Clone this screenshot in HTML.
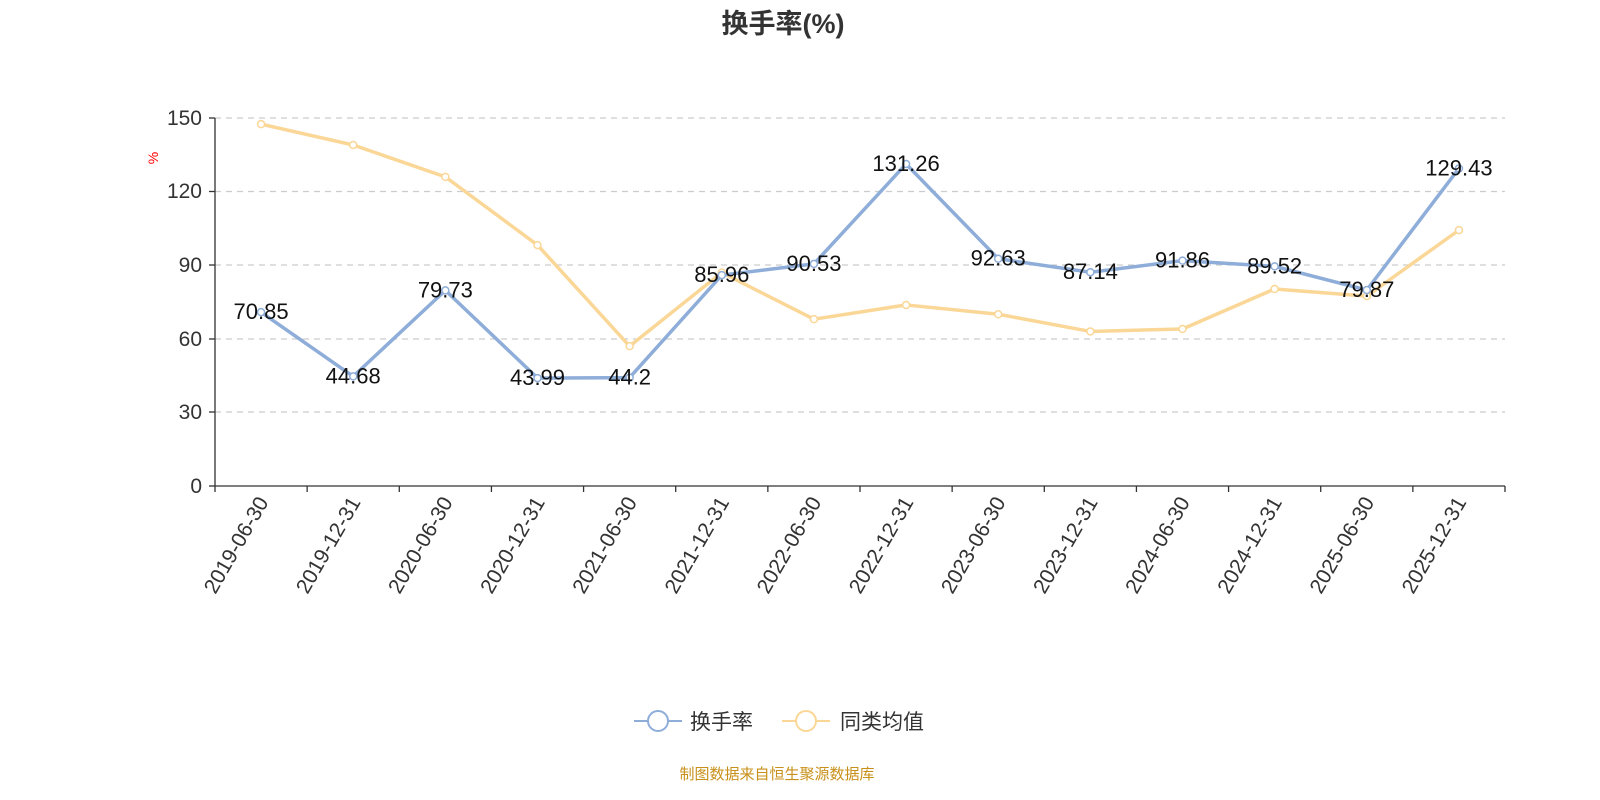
<!DOCTYPE html>
<html><head><meta charset="utf-8"><style>
html,body{margin:0;padding:0;background:#fff;overflow:hidden;width:1600px;height:800px;}
svg{display:block;}
svg text{font-family:"Liberation Sans","Noto Sans CJK SC",sans-serif;}
</style></head><body>
<svg width="1600" height="800" viewBox="0 0 1600 800" xmlns="http://www.w3.org/2000/svg">
<text x="783" y="33" text-anchor="middle" font-size="27" font-weight="bold" fill="#333">换手率(%)</text>
<g stroke="#ccc" stroke-dasharray="6,5" stroke-width="1.3">
<line x1="215" x2="1505" y1="118" y2="118"/><line x1="215" x2="1505" y1="191.5" y2="191.5"/>
<line x1="215" x2="1505" y1="265" y2="265"/><line x1="215" x2="1505" y1="339" y2="339"/>
<line x1="215" x2="1505" y1="412" y2="412"/>
</g>
<g stroke="#333" stroke-width="1.3">
<line x1="215" x2="215" y1="118" y2="486"/><line x1="215" x2="1505" y1="486" y2="486"/>
<line x1="209" x2="215" y1="118" y2="118"/><line x1="209" x2="215" y1="191.5" y2="191.5"/><line x1="209" x2="215" y1="265" y2="265"/><line x1="209" x2="215" y1="339" y2="339"/><line x1="209" x2="215" y1="412" y2="412"/><line x1="209" x2="215" y1="486" y2="486"/>
</g>
<g font-size="21" fill="#333" text-anchor="end">
<text x="202" y="125">150</text><text x="202" y="198">120</text><text x="202" y="272">90</text><text x="202" y="346">60</text><text x="202" y="419">30</text><text x="202" y="493">0</text>
</g>
<text x="158" y="158" font-size="14" fill="red" transform="rotate(-90 158 158)" text-anchor="middle">%</text>
<g id="ticks" stroke="#333" stroke-width="1.3"></g>
<g id="xl" font-size="21" fill="#333"></g>
<polyline id="yl" fill="none" stroke="#fad797" stroke-width="3.5" stroke-linejoin="round"/>
<polyline id="bl" fill="none" stroke="#8eadd9" stroke-width="3.5" stroke-linejoin="round"/>
<g id="pts"></g>
<g id="lab" font-size="22" fill="#111" text-anchor="middle"></g>
<line x1="634" x2="682" y1="721" y2="721" stroke="#8eadd9" stroke-width="2"/>
<circle cx="658" cy="721" r="10" fill="#fff" stroke="#8eadd9" stroke-width="2"/>
<text x="690" y="729" font-size="21" fill="#333">换手率</text>
<line x1="782" x2="830" y1="721" y2="721" stroke="#fad797" stroke-width="2"/>
<circle cx="806" cy="721" r="10" fill="#fff" stroke="#fad797" stroke-width="2"/>
<text x="840" y="729" font-size="21" fill="#333">同类均值</text>
<text x="777" y="779" text-anchor="middle" font-size="15" fill="#c8901a">制图数据来自恒生聚源数据库</text>
</svg>
<script>
const ns="http://www.w3.org/2000/svg";
const cats=["2019-06-30","2019-12-31","2020-06-30","2020-12-31","2021-06-30","2021-12-31","2022-06-30","2022-12-31","2023-06-30","2023-12-31","2024-06-30","2024-12-31","2025-06-30","2025-12-31"];
const b=[70.85,44.68,79.73,43.99,44.2,85.96,90.53,131.26,92.63,87.14,91.86,89.52,79.87,129.43];
const y=[147.5,139,126,98.2,57,87,68,73.8,70,63,64,80.3,77.4,104.3];
const w=1290/14,Y=v=>486-v*368/150,X=i=>215+w*(i+0.5);
const el=(t,a,p,txt)=>{const e=document.createElementNS(ns,t);for(const k in a)e.setAttribute(k,a[k]);if(txt)e.textContent=txt;document.getElementById(p).appendChild(e);};
for(let i=0;i<=14;i++){const x=215+w*i;el("line",{x1:x,x2:x,y1:486,y2:492},"ticks");}
cats.forEach((c,i)=>{const x=X(i)+8,yy=502;el("text",{x:x,y:yy,"text-anchor":"end",transform:`rotate(-60 ${x} ${yy})`},"xl",c);});
document.getElementById("yl").setAttribute("points",y.map((v,i)=>X(i)+","+Y(v)).join(" "));
document.getElementById("bl").setAttribute("points",b.map((v,i)=>X(i)+","+Y(v)).join(" "));
y.forEach((v,i)=>el("circle",{cx:X(i),cy:Y(v),r:3.5,fill:"#fff",stroke:"#fad797","stroke-width":1.5},"pts"));
b.forEach((v,i)=>el("circle",{cx:X(i),cy:Y(v),r:3.5,fill:"#fff",stroke:"#8eadd9","stroke-width":1.5},"pts"));
b.forEach((v,i)=>el("text",{x:X(i),y:Y(v)+7},"lab",String(v)));
</script>
</body></html>
